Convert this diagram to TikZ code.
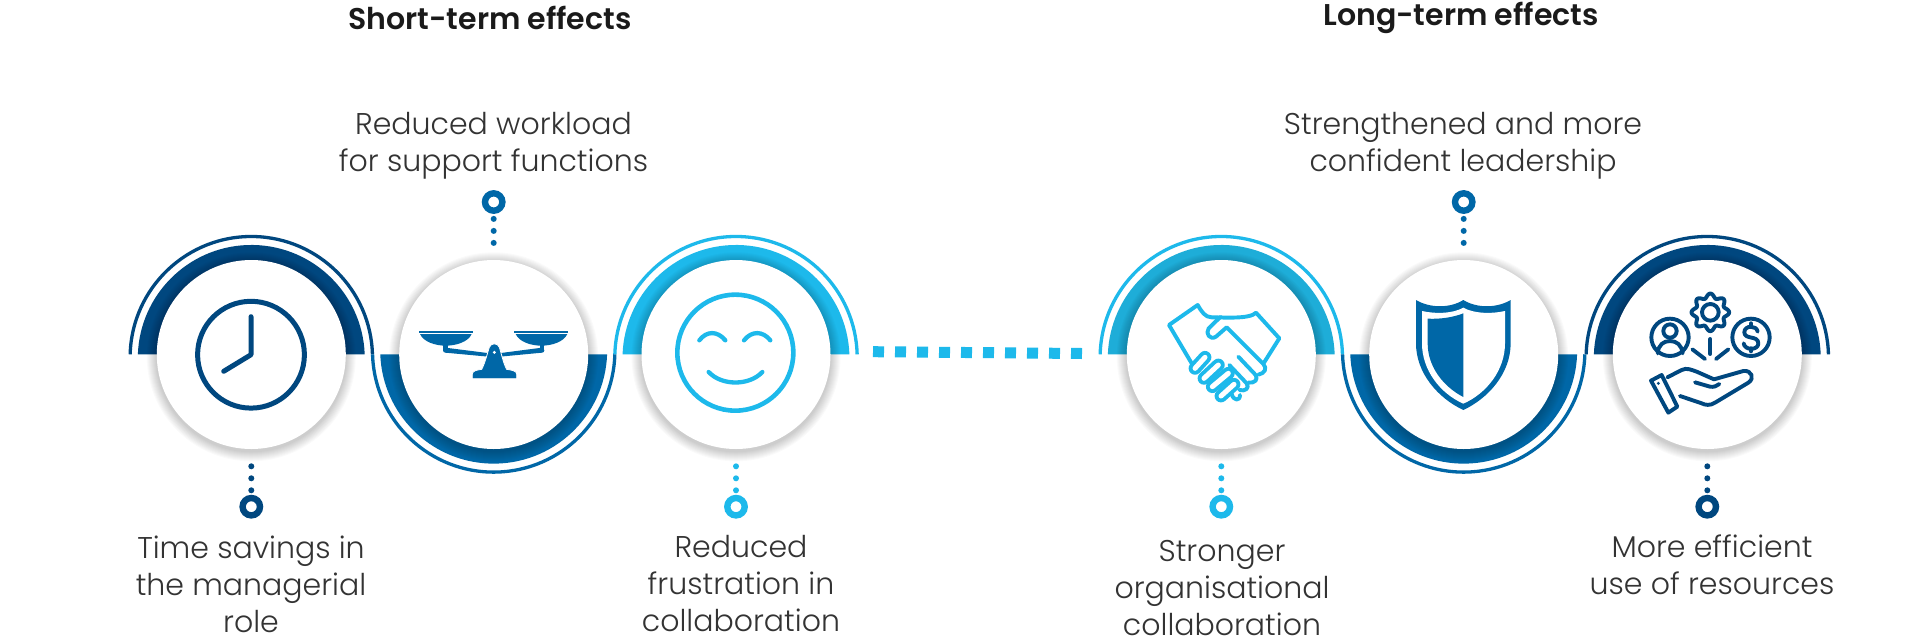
\documentclass[tikz,border=0pt]{standalone}
\usepackage{fontspec}
\setmainfont{Poppins}[UprightFont=* Light,BoldFont=* SemiBold]
\definecolor{navy}{HTML}{00477F}
\definecolor{midb}{HTML}{0067A7}
\definecolor{cyanb}{HTML}{1DB9EB}
\definecolor{cyand}{HTML}{1EADD8}
\definecolor{txt}{HTML}{333333}
\definecolor{ttl}{HTML}{1A1A1A}
\tikzset{
  disc/.style={circle,fill=white,minimum size=189pt,inner sep=0pt,outer sep=0pt},
  marker/.style={circle,draw=#1,line width=6.4pt,minimum size=17.4pt,inner sep=0pt,fill=white},
  dotline/.style={draw=#1,line width=6pt,line cap=round,dash pattern=on 0pt off 12pt},
  ringline/.style={draw=#1,line width=3.3pt},
  label/.style={align=center,font=\fontsize{30}{37}\selectfont,text=txt,inner sep=0pt},
  title/.style={align=center,font=\fontsize{30}{37}\selectfont\bfseries,text=ttl,inner sep=0pt},
  ico/.style={draw=#1,line width=4.2pt,line cap=round,line join=round,fill=none},
  thin ico/.style={draw=#1,line width=3.9pt,line cap=round,line join=round,fill=none},
  capsule/.style={draw=cyanb,double=white,double distance=5pt,line width=3.9pt,line cap=round}
}
\begin{document}
\begin{tikzpicture}[x=1pt,y=-1pt]
\useasboundingbox (0,0) rectangle (1920,643);
\fill[white] (0,0) rectangle (1920,643);
% bands above
\foreach \x/\c/\rc in {251.3/navy/navy,736/cyanb/cyanb,1221.3/cyand/cyanb,1707.3/navy/navy}{
  \fill[\c] (\x+113.4,354.3) arc[start angle=2.1,end angle=177.9,radius=113.5pt] -- cycle;
  \draw[ringline=\rc] (\x-121.15,354.3) arc[start angle=178.4,end angle=1.6,radius=121.2pt];
}
% bands below
\foreach \x in {493.7,1463.7}{
  \fill[midb] (\x+113.4,354.3) arc[start angle=-2.1,end angle=-177.9,radius=113.5pt] -- cycle;
  \draw[ringline=midb] (\x-121.15,354.3) arc[start angle=-178.4,end angle=-1.6,radius=121.2pt];
}
% soft shadows and discs
\foreach \i/\x in {1/251.3,2/493.7,3/736,4/1221.3,5/1463.7,6/1707.3}{
  \foreach \s in {1,2,...,10}{
    \fill[black,opacity=.02] (\x,356.8) circle[radius=94.5+\s*1.0];
  }
  \node[disc] (w\i) at (\x,354.5) {};
}
% markers and dotted connectors
\node[marker=navy] (m1) at (251.3,506.7) {};
\node[marker=midb] (m2) at (493.7,202) {};
\node[marker=cyanb] (m3) at (736,506.7) {};
\node[marker=cyanb] (m4) at (1221.3,506.7) {};
\node[marker=midb] (m5) at (1463.7,202) {};
\node[marker=navy] (m6) at (1707.3,506.7) {};
\draw[dotline=navy,shorten <=17.3pt,shorten >=4pt] (w1.south) -- (m1.north);
\draw[dotline=cyanb,shorten <=17.3pt,shorten >=4pt] (w3.south) -- (m3.north);
\draw[dotline=cyanb,shorten <=17.3pt,shorten >=4pt] (w4.south) -- (m4.north);
\draw[dotline=navy,shorten <=17.3pt,shorten >=4pt] (w6.south) -- (m6.north);
\draw[dotline=midb,shorten <=5pt,shorten >=16.6pt] (m2.south) -- (w2.north);
\draw[dotline=midb,shorten <=5pt,shorten >=16.6pt] (m5.south) -- (w5.north);
% dashed bar
\coordinate (barL) at (873,351.7);
\coordinate (barR) at (1082,353.5);
\draw[cyanb,line width=11pt,dash pattern=on 11pt off 11pt] (barL) -- (barR);
% clock
\draw[ico=navy,line width=5pt] (251,354.7) circle[radius=53.4];
\draw[ico=navy,line width=5pt] (251,316.7) -- (251,354.7) -- (223.7,371.3);
% scales
\begin{scope}[shift={(400,300)},scale=.33333,fill=midb]
  \fill (57,93) rectangle (218,99);
  \fill (343,93) rectangle (505,99);
  \fill (60,102) -- (215,102) .. controls (205,125) and (170,137) .. (137,137) .. controls (105,137) and (70,125) .. (60,102) -- cycle;
  \fill (347,102) -- (502,102) .. controls (492,125) and (457,137) .. (424,137) .. controls (392,137) and (357,125) .. (347,102) -- cycle;
  \fill (130,136) rectangle (143,150);
  \fill (419,136) rectangle (432,150);
  \fill (136,151) circle[radius=7];
  \fill (426,151) circle[radius=7];
  \fill (136,143) -- (270,160) -- (265,170) -- (136,158) -- cycle;
  \fill (426,143) -- (295,160) -- (300,170) -- (426,158) -- cycle;
  \draw[white,line width=.8pt,fill=midb] (217,236) -- (217,222) .. controls (217,212) and (232,210) .. (245,208) .. controls (255,190) and (262,160) .. (268,142) .. controls (272,128) and (294,128) .. (298,142) .. controls (304,160) and (310,190) .. (320,208) .. controls (333,210) and (350,212) .. (350,222) -- (350,236) -- cycle;
  \fill[white] (283,157) circle[radius=5];
\end{scope}
% smiley
\begin{scope}[shift={(590,210)},scale=.33333]
  \draw[thin ico=cyanb,line width=4.6pt] (436,428) circle[radius=174];
  \draw[thin ico=cyanb,line width=4.3pt] (328,391) .. controls (350,362) and (382,362) .. (406,391);
  \draw[thin ico=cyanb,line width=4.3pt] (462,391) .. controls (485,362) and (518,362) .. (541,391);
  \draw[thin ico=cyanb,line width=4.3pt] (356,486) .. controls (395,528) and (478,528) .. (517,486);
\end{scope}
% handshake
\begin{scope}[shift={(1090,210)},scale=.33333]
  \draw[thin ico=cyanb] (305,460) -- (237,345) -- (323,285) .. controls (335,305) and (345,322) .. (365,322) .. controls (400,322) and (480,328) .. (498,308) -- (568,385) -- (522,458);
  \draw[thin ico=cyanb] (392,320) -- (356,355) .. controls (345,370) and (360,392) .. (378,380) -- (410,352) -- (520,462) .. controls (532,475) and (525,490) .. (505,494);
  \draw[thin ico=cyanb] (445,440) -- (497,495) .. controls (505,508) and (495,520) .. (475,518);
  \draw[thin ico=cyanb] (418,465) -- (470,520) .. controls (480,535) and (465,545) .. (448,540);
  \draw[thin ico=cyanb] (425,552) .. controls (430,572) and (450,575) .. (450,555);
  \draw[capsule] (315,475) -- (345,442);
  \draw[capsule] (342,505) -- (385,465);
  \draw[capsule] (367,530) -- (415,490);
  \draw[capsule] (393,558) -- (432,523);
\end{scope}
% shield
\begin{scope}[shift={(1090,210)},scale=.33333]
  \fill[midb] (978,270) .. controls (1020,295) and (1080,295) .. (1120,270) .. controls (1160,295) and (1220,295) .. (1262,270) -- (1262,400) .. controls (1262,490) and (1195,565) .. (1120,600) .. controls (1045,565) and (978,490) .. (978,400) -- cycle;
  \fill[white] (996,303) .. controls (1040,313) and (1090,310) .. (1120,293) .. controls (1150,310) and (1200,313) .. (1245,303) -- (1245,400) .. controls (1245,480) and (1190,550) .. (1120,581) .. controls (1050,550) and (996,480) .. (996,400) -- cycle;
  \fill[midb] (1013,326) .. controls (1050,328) and (1090,322) .. (1120,310) -- (1120,561) .. controls (1060,530) and (1013,470) .. (1013,400) -- cycle;
\end{scope}
% resources icon
\begin{scope}[shift={(1590,260)},scale=.33333]
  \draw[thin ico=navy] (240,232) circle[radius=56];
  \draw[thin ico=navy] (240,213) circle[radius=20];
  \draw[thin ico=navy] (203,280) .. controls (205,255) and (220,243) .. (240,243) .. controls (260,243) and (275,255) .. (278,280);
  \draw[thin ico=navy] (483,232) circle[radius=56];
  \draw[thin ico=navy] (503,215) .. controls (500,195) and (463,195) .. (463,217) .. controls (463,240) and (505,225) .. (505,250) .. controls (505,272) and (463,272) .. (461,250);
  \draw[thin ico=navy] (483,190) -- (483,200);
  \draw[thin ico=navy] (483,265) -- (483,274);
  \draw[thin ico=navy] (361,157) circle[radius=25];
  \draw[thin ico=navy,shift={(361,157)}] plot[domain=0:360,samples=97,smooth] (\x:{50+6.5*cos(8*\x)}) -- cycle;
  \draw[thin ico=navy] (361,237) -- (361,282);
  \draw[thin ico=navy] (307,268) -- (345,297);
  \draw[thin ico=navy] (415,268) -- (378,297);
  \draw[thin ico=navy] (183,362) -- (215,345) -- (262,440) -- (235,458) -- cycle;
  \fill[navy] (205,370) circle[radius=5];
  \draw[thin ico=navy] (232,352) -- (275,330) .. controls (290,322) and (305,330) .. (320,335) -- (372,358) -- (460,333) .. controls (485,330) and (495,355) .. (475,368) -- (375,428) .. controls (360,438) and (345,435) .. (335,430) -- (270,408);
  \draw[thin ico=navy] (315,367) -- (360,380) .. controls (372,382) and (380,378) .. (388,372);
\end{scope}
% text
\node[title] (t1) at (490,18) {Short-term effects};
\node[title] (t2) at (1461,18) {Long-term effects};
\node[label] (l2) at (493.5,146) {Reduced workload\\for support functions};
\node[label] (l5) at (1463,146) {Strengthened and more\\confident leadership};
\node[label] (l1) at (251,584) {Time savings in\\the managerial\\role};
\node[label] (l3) at (741,584) {Reduced\\frustration in\\collaboration};
\node[label] (l4) at (1222,588) {Stronger\\organisational\\collaboration};
\node[label] (l6) at (1712,565) {More efficient\\use of resources};
\end{tikzpicture}
\end{document}
